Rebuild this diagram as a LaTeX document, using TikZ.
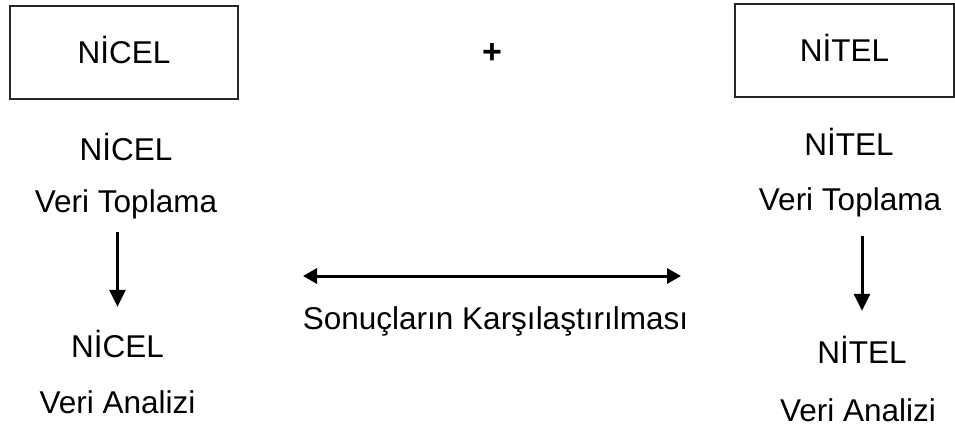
\documentclass[tikz,border=0pt]{standalone}
\usepackage{fontspec}
\setmainfont{Liberation Sans}
\usetikzlibrary{arrows.meta}
\begin{document}
\begin{tikzpicture}[x=1pt,y=-1pt,font=\fontsize{31.5}{37}\selectfont]
        \tikzstyle{method}=[draw=black!85,line width=1.8pt,inner sep=0pt,text height=22pt,text depth=0pt,minimum height=93pt]
        \tikzstyle{txt}=[inner sep=0pt,anchor=base,text height=22pt,text depth=7pt]
        \tikzstyle{flow}=[draw,line width=3pt,-{Triangle[length=17pt,width=16pt]}]
        \tikzstyle{link}=[draw,line width=3pt,{Triangle[length=14pt,width=15pt]}-{Triangle[length=14pt,width=15pt]}]
        \useasboundingbox (0,0) rectangle (955,426);
       \begin{scope}
         \node [method,minimum width=228pt] (nicel) at (124,52.5) {NİCEL};
         \node [method,minimum width=219pt] (nitel) at (844.5,50.5) {NİTEL};
         \node [inner sep=0pt,font=\fontsize{34}{40}\selectfont\bfseries] (plus) at (492,54) {+};
         \node [txt] (n1) at (126,160) {NİCEL};
         \node [txt] (vt1) at (126,212) {Veri Toplama};
         \node [txt] (n2) at (117.5,357) {NİCEL};
         \node [txt,text depth=0pt] (va1) at (117.5,413) {Veri Analizi};
         \node [txt] (t1) at (849,155) {NİTEL};
         \node [txt] (vt2) at (850,210) {Veri Toplama};
         \node [txt] (t2) at (862,363) {NİTEL};
         \node [txt,text depth=0pt] (va2) at (858,421) {Veri Analizi};
         \node [txt] (cmp) at (495.5,329) {Sonuçların Karşılaştırılması};
         \coordinate (cmpL) at (303,276);
         \coordinate (cmpR) at (681,276);
         \path[flow,shorten <=13pt,shorten >=28pt] (n2 |- vt1.south) -- (n2.north);
         \path[flow,shorten <=19pt,shorten >=30pt] (t2 |- vt2.south) -- (t2.north);
         \path[link] (cmpL) -- (cmpR);
        \end{scope}
      \end{tikzpicture}
\end{document}
